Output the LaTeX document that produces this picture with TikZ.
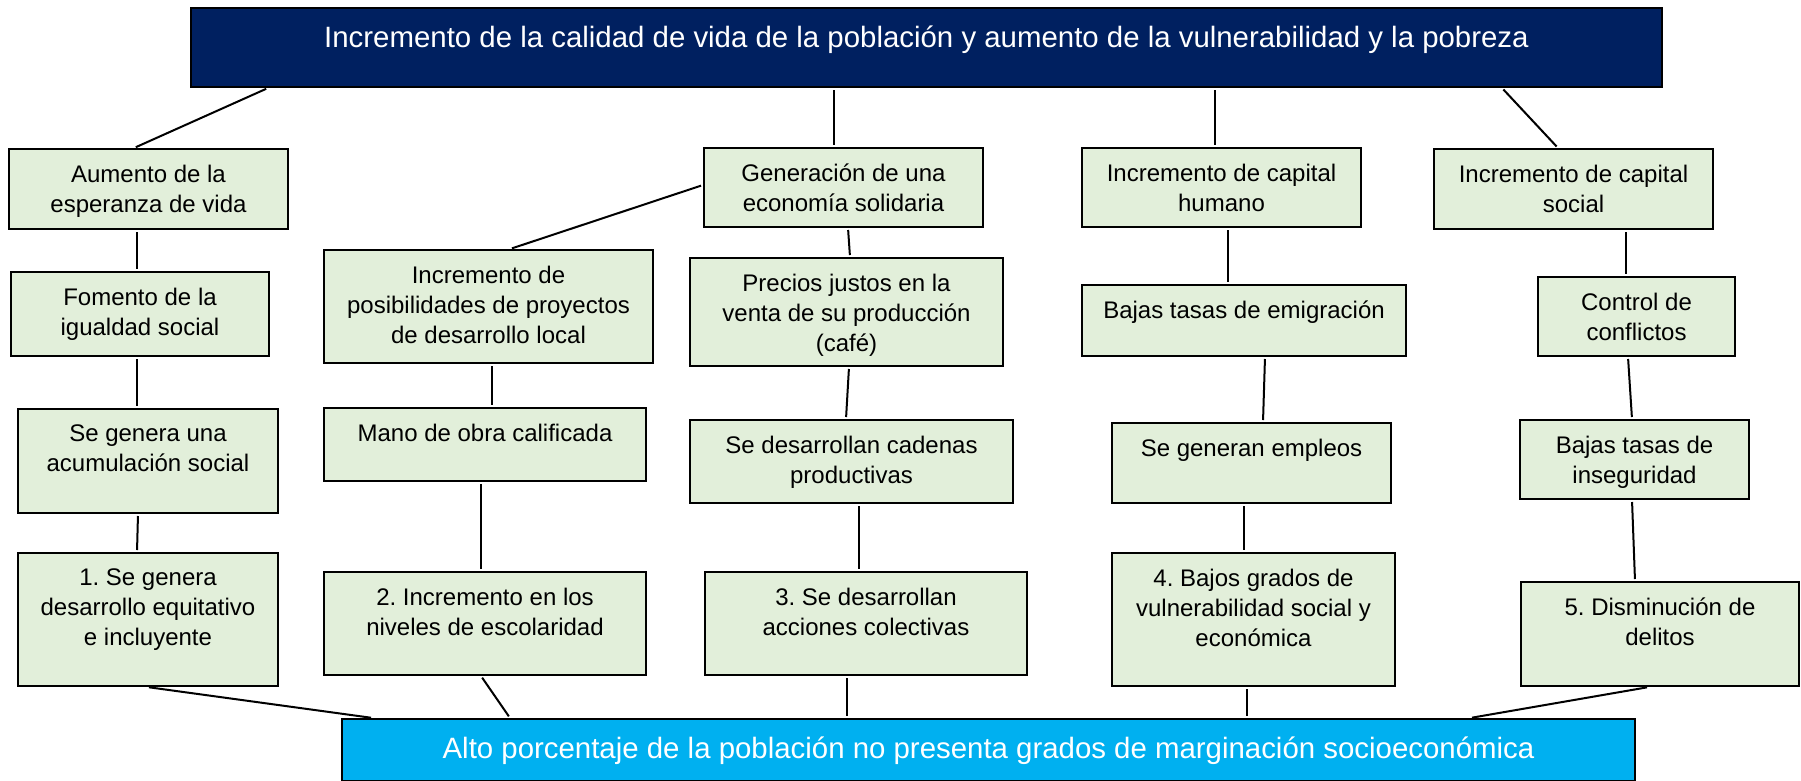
\documentclass[tikz,border=0pt]{standalone}
\usepackage{fontspec}
\setmainfont{Liberation Sans}
\frenchspacing
\definecolor{navy}{HTML}{002060}
\definecolor{cyanbox}{HTML}{00B0F0}
\definecolor{boxgreen}{HTML}{E2EFDA}
\tikzset{
  gbox/.style={draw=black, line width=2pt, fill=boxgreen, inner sep=0pt},
  gtxt/.style={inner sep=0pt, align=center, text=black, font=\fontsize{24}{30}\selectfont\frenchspacing},
  bigtxt/.style={inner sep=0pt, text=white, font=\fontsize{29.4}{35}\selectfont},
  conn/.style={draw=black, line width=2pt, shorten <=2pt, shorten >=2pt},
}
\newcommand{\gb}[6]{%
  \node[gbox, minimum width={(#4)-(#2)}, minimum height={(#5)-(#3)}] (#1) at ({((#2)+(#4))/2},{((#3)+(#5))/2}) {};
  \node[gtxt, anchor=north] (#1-t) at ([yshift=-17pt]#1.north) {#6};}
\begin{document}
\begin{tikzpicture}[x=1pt,y=-1pt]
\useasboundingbox (0,0) rectangle (1801,780);
% top and bottom boxes
\node[draw=black, line width=2pt, fill=navy, inner sep=0pt, minimum width=1471, minimum height=79] (top) at (926.5,47.5) {};
\node[bigtxt, anchor=base] (top-t) at (926.5,47) {Incremento de la calidad de vida de la población y aumento de la vulnerabilidad y la pobreza};
\node[draw=black, line width=2pt, fill=cyanbox, inner sep=0pt, minimum width=1293, minimum height=62] (bot) at (988.5,750) {};
\node[bigtxt, anchor=base] (bot-t) at (988.5,758) {Alto porcentaje de la población no presenta grados de marginación socioeconómica};
% column 1
\gb{aum}{9}{149}{288}{229}{Aumento de la\\esperanza de vida}
\gb{fom}{11}{272}{269}{356}{Fomento de la\\igualdad social}
\gb{acu}{18}{409}{278}{513}{Se genera una\\acumulación social}
\gb{r1}{18}{553}{278}{686}{1. Se genera\\desarrollo equitativo\\e incluyente}
% column 2
\gb{gen}{704}{148}{983}{227}{Generación de una\\economía solidaria}
\gb{pos}{324}{250}{653}{363}{Incremento de\\posibilidades de proyectos\\de desarrollo local}
\gb{man}{324}{408}{646}{481}{Mano de obra calificada}
\gb{r2}{324}{572}{646}{675}{2. Incremento en los\\niveles de escolaridad}
% column 3
\gb{pre}{690}{258}{1003}{366}{Precios justos en la\\venta de su producción\\(café)}
\gb{cad}{690}{420}{1013}{503}{Se desarrollan cadenas\\productivas}
\gb{r3}{705}{572}{1027}{675}{3. Se desarrollan\\acciones colectivas}
% column 4
\gb{hum}{1082}{148}{1361}{227}{Incremento de capital\\humano}
\gb{emi}{1082}{285}{1406}{356}{Bajas tasas de emigración}
\gb{emp}{1112}{423}{1391}{503}{Se generan empleos}
\gb{r4}{1112}{553}{1395}{686}{4. Bajos grados de\\vulnerabilidad social y\\económica}
% column 5
\gb{soc}{1434}{149}{1713}{229}{Incremento de capital\\social}
\gb{con}{1538}{277}{1735}{356}{Control de\\conflictos}
\gb{ins}{1520}{420}{1749}{499}{Bajas tasas de\\inseguridad}
\gb{r5}{1521}{582}{1799}{686}{5. Disminución de\\delitos}
% connectors
\draw[conn] (268,0 |- top.south) -- (134,0 |- aum.north);
\draw[conn] (834,0 |- top.south) -- (834,0 |- gen.north);
\draw[conn] (1215,0 |- top.south) -- (1215,0 |- hum.north);
\draw[conn] (1502,0 |- top.south) -- (1558,0 |- soc.north);
\draw[conn] (0,185 -| gen.west) -- (510,0 |- pos.north);
\draw[conn] (848,0 |- gen.south) -- (850,0 |- pre.north);
\draw[conn] (137,0 |- aum.south) -- (137,0 |- fom.north);
\draw[conn] (137,0 |- fom.south) -- (137,0 |- acu.north);
\draw[conn] (138,0 |- acu.south) -- (137,0 |- r1.north);
\draw[conn] (492,0 |- pos.south) -- (492,0 |- man.north);
\draw[conn] (481,0 |- man.south) -- (481,0 |- r2.north);
\draw[conn] (849,0 |- pre.south) -- (846,0 |- cad.north);
\draw[conn] (859,0 |- cad.south) -- (859,0 |- r3.north);
\draw[conn] (1228,0 |- hum.south) -- (1228,0 |- emi.north);
\draw[conn] (1265,0 |- emi.south) -- (1263,0 |- emp.north);
\draw[conn] (1244,0 |- emp.south) -- (1244,0 |- r4.north);
\draw[conn] (1626,0 |- soc.south) -- (1626,0 |- con.north);
\draw[conn] (1628,0 |- con.south) -- (1632,0 |- ins.north);
\draw[conn] (1632,0 |- ins.south) -- (1635,0 |- r5.north);
\draw[conn] (147,0 |- r1.south) -- (373,0 |- bot.north);
\draw[conn] (481,0 |- r2.south) -- (510,0 |- bot.north);
\draw[conn] (847,0 |- r3.south) -- (847,0 |- bot.north);
\draw[conn] (1247,0 |- r4.south) -- (1247,0 |- bot.north);
\draw[conn] (1649,0 |- r5.south) -- (1470,0 |- bot.north);
\end{tikzpicture}
\end{document}
